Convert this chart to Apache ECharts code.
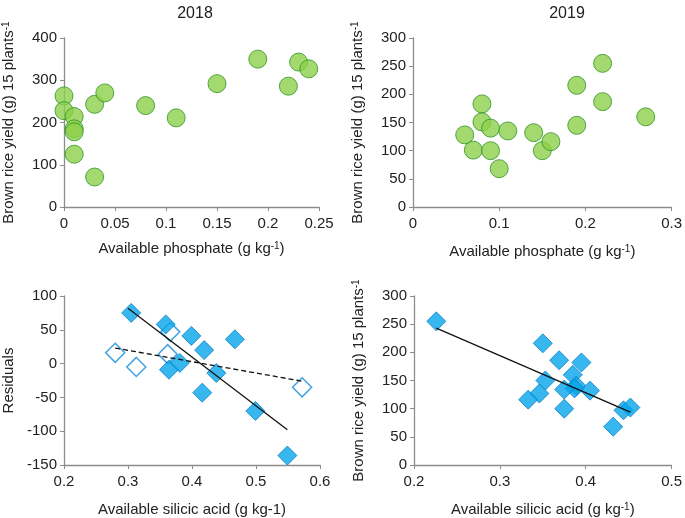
<!DOCTYPE html>
<html>
<head>
<meta charset="utf-8">
<script src="https://cdn.jsdelivr.net/npm/echarts@6/dist/echarts.min.js"></script>
<style>html,body{margin:0;padding:0;background:#fff}#c{width:685px;height:518px}</style>
</head>
<body>
<div id="c"></div>
<script>
// Panel A: 2018, available phosphate vs brown rice yield
const p2018X = [0, 0, 0.01, 0.01, 0.01, 0.01, 0.03, 0.03, 0.04, 0.08, 0.11, 0.15, 0.19, 0.22, 0.23, 0.24];
const p2018Y = [263, 228, 214, 185, 178, 125, 71, 243, 270, 240, 211, 292, 350, 286, 343, 327];
// Panel B: 2019, available phosphate vs brown rice yield
const p2019X = [0.06, 0.07, 0.08, 0.08, 0.09, 0.09, 0.10, 0.11, 0.14, 0.15, 0.16, 0.19, 0.19, 0.22, 0.22, 0.27];
const p2019Y = [128, 101, 183, 151, 140, 100, 68, 135, 132, 100, 116, 216, 145, 255, 187, 160];
// Panel C: residuals vs available silicic acid (filled and open)
const resFilledX = [0.305, 0.359, 0.364, 0.381, 0.399, 0.419, 0.416, 0.438, 0.467, 0.499, 0.549];
const resFilledY = [75, 58, -9, 1, 41, 20, -43, -14, 36, -70, -136];
const resOpenX = [0.28, 0.313, 0.362, 0.366, 0.572];
const resOpenY = [16, -5, 14, 47, -35];
const resSolidLineX = [0.300, 0.549];
const resSolidLineY = [82, -98];
const resDashLineX = [0.28, 0.572];
const resDashLineY = [23, -26];
// Panel D: 2019, available silicic acid vs brown rice yield
const siX = [0.226, 0.350, 0.369, 0.395, 0.385, 0.353, 0.389, 0.387, 0.375, 0.405, 0.346, 0.333, 0.375, 0.444, 0.452, 0.432];
const siY = [255, 216, 186, 182, 160, 150, 141, 136, 134, 132, 127, 116, 100, 97, 102, 68];
const siLineX = [0.226, 0.452];
const siLineY = [243, 94];

const titles = ['2018', '2019'];

const zip = (a, b) => a.map((v, i) => [v, b[i]]);

const FONT = 'Liberation Sans, Arial, sans-serif';
const TXT = '#222';
const AX = '#8c8c8c';
const richSup = {
  n: { fontSize: 15, fontFamily: FONT, color: TXT },
  s: { fontSize: 10, fontFamily: FONT, color: TXT, verticalAlign: 'top', lineHeight: 12 }
};

function xAx(idx, min, max, interval, name, gap) {
  return {
    gridIndex: idx, type: 'value', min, max, interval,
    name, nameLocation: 'middle', nameGap: gap,
    nameTextStyle: { rich: richSup, fontSize: 15, fontFamily: FONT, color: TXT },
    axisLine: { onZero: false, lineStyle: { color: AX, width: 1.3 } },
    axisTick: { show: true, length: 4, lineStyle: { color: AX } },
    axisLabel: { fontSize: 15, fontFamily: FONT, color: TXT, margin: 9 },
    splitLine: { show: false }
  };
}
function yAx(idx, min, max, interval, name, gap) {
  return {
    gridIndex: idx, type: 'value', min, max, interval,
    name, nameLocation: 'middle', nameGap: gap,
    nameTextStyle: { rich: richSup, fontSize: 15, fontFamily: FONT, color: TXT },
    axisLine: { show: true, onZero: false, lineStyle: { color: AX, width: 1.3 } },
    axisTick: { show: true, length: 4, lineStyle: { color: AX } },
    axisLabel: { fontSize: 15, fontFamily: FONT, color: TXT, margin: 7 },
    splitLine: { show: false }
  };
}

const yieldName = '{n|Brown rice yield (g) 15 plants}{s|-1}';
const circle = { color: '#8ccf4a', borderColor: '#2f9424', borderWidth: 1 };
const diamond = { color: '#05a5ea', borderColor: '#0a80c8', borderWidth: 1 };
const openDiamond = { color: '#ffffff', borderColor: '#1b8fd8', borderWidth: 1.6 };

const option = {
  animation: false,
  backgroundColor: '#fff',
  title: [
    { text: titles[0], left: 190, top: 1, textAlign: 'center', textStyle: { fontSize: 16, fontWeight: 'normal', fontFamily: FONT, color: TXT } },
    { text: titles[1], left: 562, top: 1, textAlign: 'center', textStyle: { fontSize: 16, fontWeight: 'normal', fontFamily: FONT, color: TXT } }
  ],
  grid: [
    { left: 63, top: 38, width: 256, height: 169 },
    { left: 413, top: 38, width: 261, height: 169 },
    { left: 64, top: 296, width: 256, height: 169 },
    { left: 414, top: 296, width: 260, height: 169 }
  ],
  xAxis: [
    xAx(0, 0, 0.25, 0.05, '{n|Available phosphate (g kg}{s|-1}{n|)}', 34),
    xAx(1, 0, 0.3, 0.1, '{n|Available phosphate (g kg}{s|-1}{n|)}', 37),
    xAx(2, 0.2, 0.6, 0.1, '{n|Available silicic acid (g kg-1)}', 37),
    xAx(3, 0.2, 0.5, 0.1, '{n|Available silicic acid (g kg}{s|-1}{n|)}', 37)
  ],
  yAxis: [
    yAx(0, 0, 400, 100, yieldName, 48),
    yAx(1, 0, 300, 50, yieldName, 48),
    yAx(2, -150, 100, 50, '{n|Residuals}', 48),
    yAx(3, 0, 300, 50, yieldName, 48)
  ],
  series: [
    { type: 'scatter', xAxisIndex: 0, yAxisIndex: 0, data: zip(p2018X, p2018Y), symbol: 'circle', symbolSize: 18, itemStyle: circle },
    { type: 'scatter', xAxisIndex: 1, yAxisIndex: 1, data: zip(p2019X, p2019Y), symbol: 'circle', symbolSize: 18, itemStyle: circle },
    { type: 'scatter', xAxisIndex: 2, yAxisIndex: 2, data: zip(resOpenX, resOpenY), symbol: 'diamond', symbolSize: 19, itemStyle: openDiamond, z: 2 },
    { type: 'scatter', xAxisIndex: 2, yAxisIndex: 2, data: zip(resFilledX, resFilledY), symbol: 'diamond', symbolSize: 19, itemStyle: diamond, z: 3 },
    { type: 'line', xAxisIndex: 2, yAxisIndex: 2, data: zip(resSolidLineX, resSolidLineY), symbol: 'none', lineStyle: { color: '#111', width: 1.3 }, z: 5 },
    { type: 'line', xAxisIndex: 2, yAxisIndex: 2, data: zip(resDashLineX, resDashLineY), symbol: 'none', lineStyle: { color: '#111', width: 1.3, type: [5, 3] }, z: 5 },
    { type: 'scatter', xAxisIndex: 3, yAxisIndex: 3, data: zip(siX, siY), symbol: 'diamond', symbolSize: 19, itemStyle: diamond, z: 3 },
    { type: 'line', xAxisIndex: 3, yAxisIndex: 3, data: zip(siLineX, siLineY), symbol: 'none', lineStyle: { color: '#111', width: 1.3 }, z: 5 }
  ]
};

const chart = echarts.init(document.getElementById('c'), null, { renderer: 'canvas' });
chart.setOption(option);
</script>
</body>
</html>
